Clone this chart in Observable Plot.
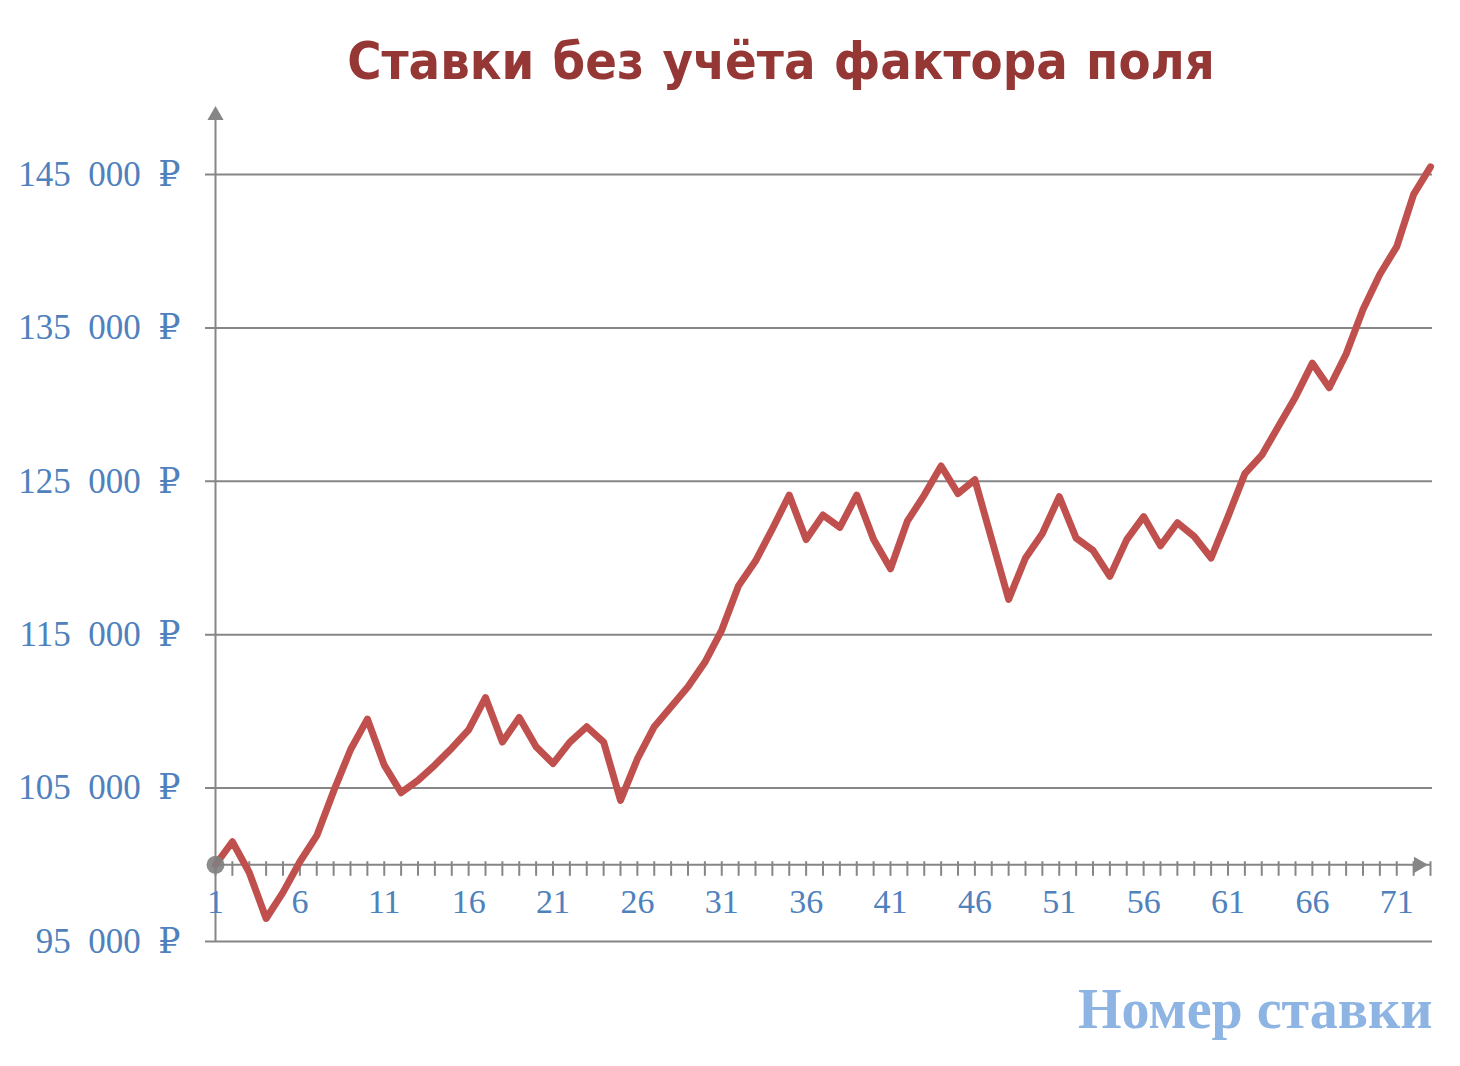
<!DOCTYPE html>
<html>
<head>
<meta charset="utf-8">
<script src="https://cdn.jsdelivr.net/npm/d3@7"></script>
<script src="https://cdn.jsdelivr.net/npm/@observablehq/plot@0.6"></script>
<style>
  body { margin: 0; background: #ffffff; }
  #title {
    height: 100px; box-sizing: border-box;
    padding-top: 35px; padding-left: 102px;
    text-align: center;
    font-family: "Liberation Sans Narrow", "DejaVu Sans Condensed", "Open Sans", sans-serif;
    font-weight: bold; font-size: 52px; line-height: 52px;
    color: #953735; word-spacing: 2px;
  }
</style>
</head>
<body>
<div id="title">Ставки без учёта фактора поля</div>
<div id="chart"></div>
<script>
// --- data ---
const betNumbers = d3.range(1, 74);
const balances = [
  100000, 101500, 99500, 96500, 98200, 100200, 101900, 104800, 107500, 109500,
  106500, 104700, 105500, 106500, 107600, 108800, 110900, 108000, 109600, 107700,
  106600, 108000, 109000, 108000, 104200, 106900, 109000, 110300, 111600, 113200,
  115300, 118200, 119800, 121900, 124100, 121200, 122800, 122000, 124100, 121200,
  119300, 122400, 124100, 126000, 124200, 125100, 121200, 117300, 120000, 121600,
  124000, 121300, 120500, 118800, 121200, 122700, 120800, 122300, 121400, 120000,
  122700, 125500, 126700, 128600, 130500, 132700, 131100, 133300, 136200, 138500,
  140300, 143700, 145500
];
const yTicks = [95000, 105000, 115000, 125000, 135000, 145000];
const xTickLabels = [1, 6, 11, 16, 21, 26, 31, 36, 41, 46, 51, 56, 61, 66, 71];
const xAxisTitle = "Номер ставки";
const baseline = 100000;

const series = betNumbers.map((n, i) => ({n, v: balances[i]}));

const gray = "#868686";
const blue = "#4F81BD";
const serif = "'Liberation Serif', 'DejaVu Serif', serif";
const rub = d => d3.format(",")(d).replace(/,/g, "\u00a0\u00a0") + "\u00a0\u00a0₽";

const chart = Plot.plot({
  width: 1460,
  height: 966,
  marginLeft: 215,
  marginRight: 30,
  marginTop: 74,
  marginBottom: 125,
  x: {domain: [1, 73], axis: null},
  y: {domain: [95000, 145000], axis: null},
  marks: [
    // horizontal gridlines (with small left ticks)
    Plot.ruleY(yTicks, {x1: 0.41, x2: 73.12, stroke: gray, strokeWidth: 2}),
    // y axis line
    Plot.ruleX([1], {y1: 95000, y2: 148600, stroke: gray, strokeWidth: 2}),
    Plot.dot([{x: 1, y: 148850}], {x: "x", y: "y", symbol: "triangle", r: 6, fill: gray, stroke: null}),
    // y tick labels
    Plot.text(yTicks, {
      y: d => d, frameAnchor: "left", dx: -35, textAnchor: "end",
      text: rub, fill: blue, fontSize: 35, fontFamily: serif
    }),
    // x axis at baseline
    Plot.ruleY([baseline], {x1: 1, x2: 73, stroke: gray, strokeWidth: 2}),
    Plot.ruleX(betNumbers, {x: d => d, y1: 100200, y2: 99250, stroke: gray, strokeWidth: 2}),
    Plot.dot([{x: 72.3, y: baseline}], {x: "x", y: "y", symbol: "triangle", rotate: 90, r: 6, fill: gray, stroke: null}),
    Plot.text(xTickLabels, {
      x: d => d, y: baseline, dy: 37, text: d => String(d),
      fill: blue, fontSize: 34, fontFamily: serif
    }),
    // data line
    Plot.line(series, {x: "n", y: "v", stroke: "#C0504D", strokeWidth: 7, strokeLinejoin: "round", strokeLinecap: "round"}),
    Plot.dot(series.slice(0, 1), {x: "n", y: "v", r: 9, fill: "#7F7F7F", fillOpacity: 0.9, stroke: null}),
    // x axis title
    Plot.text([xAxisTitle], {
      frameAnchor: "bottom-right", dx: 2, dy: 86, lineAnchor: "bottom", text: d => d, textAnchor: "end",
      fill: "#8DB4E2", fontSize: 56, fontWeight: "bold", fontFamily: serif
    })
  ]
});
document.getElementById("chart").appendChild(chart);
</script>
</body>
</html>
